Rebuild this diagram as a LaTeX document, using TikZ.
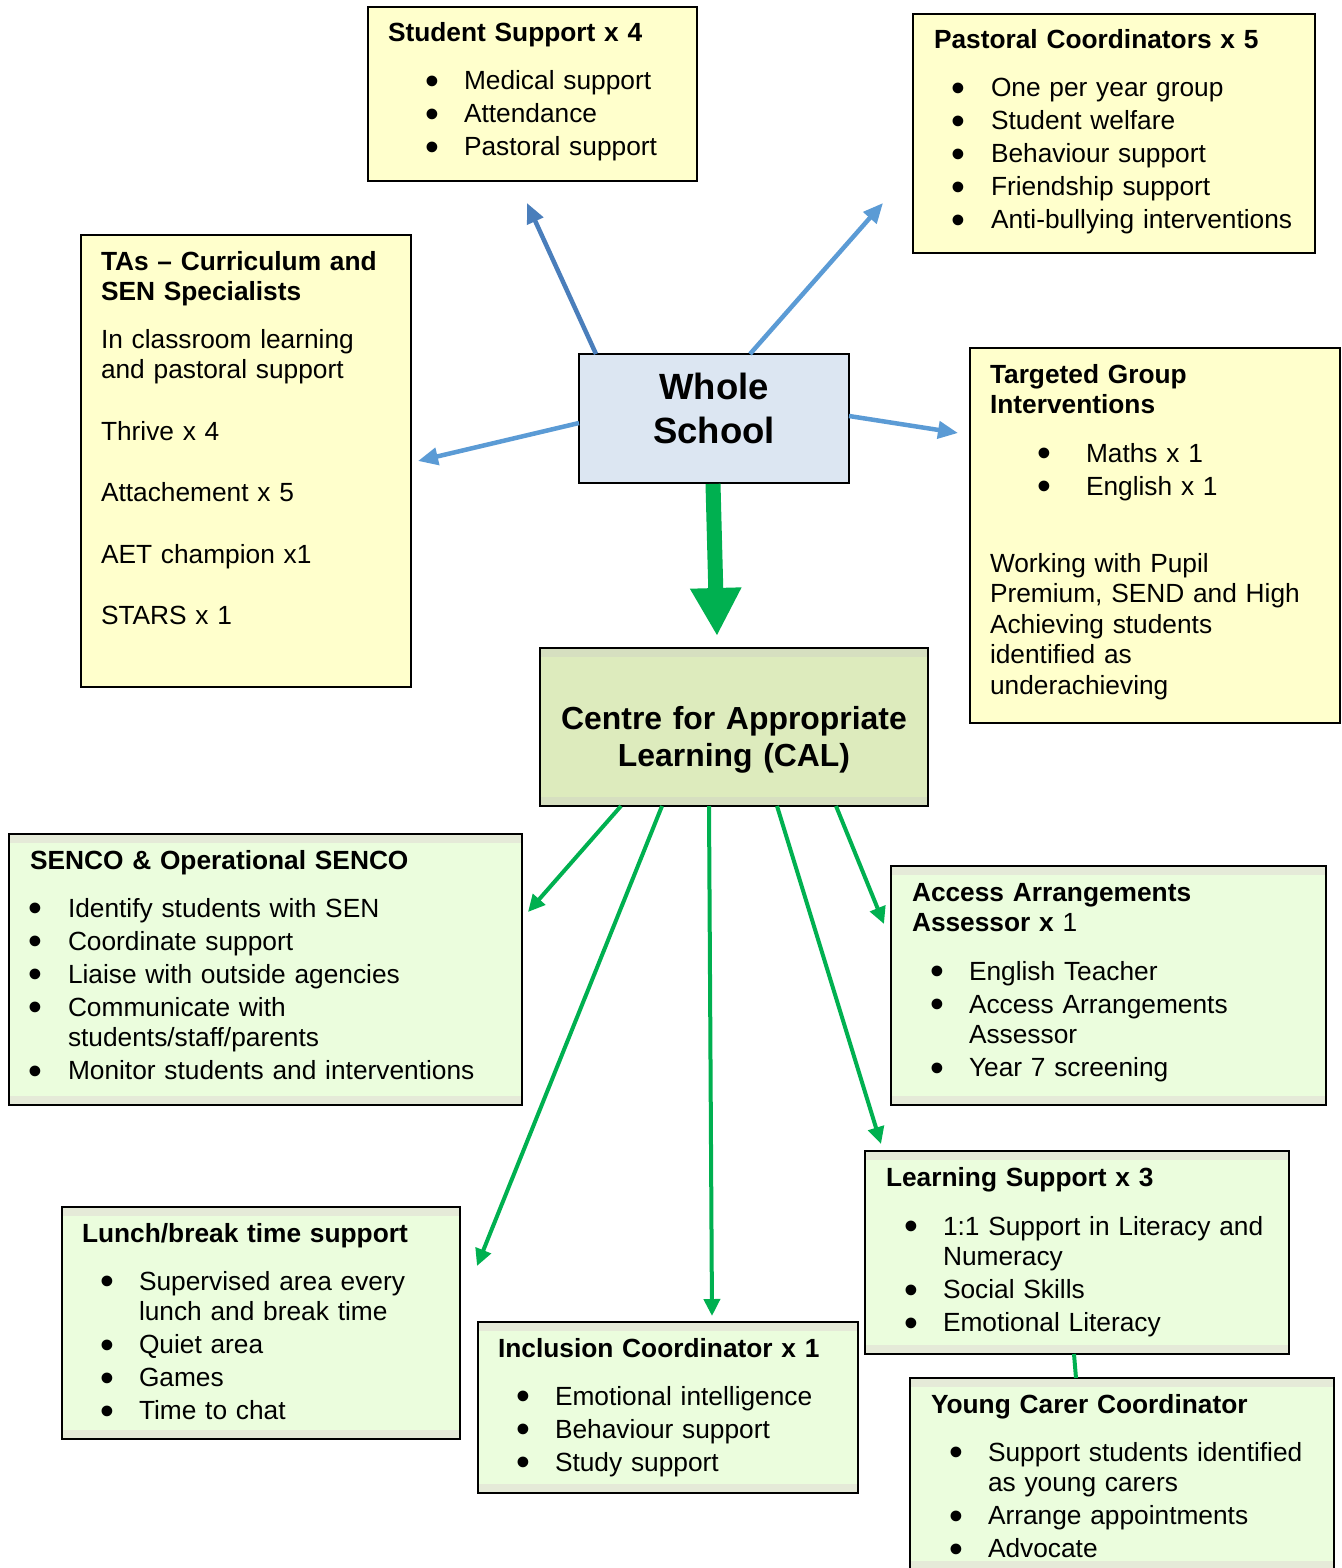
\documentclass[tikz,border=0pt]{standalone}
\usepackage{fontspec}
\setmainfont{Liberation Sans}
\usetikzlibrary{arrows.meta}
\definecolor{yfill}{HTML}{FFFFCC}
\definecolor{bfill}{HTML}{DCE6F2}
\definecolor{calfill}{HTML}{DDEBBD}
\definecolor{calstripe}{HTML}{D6DFC0}
\definecolor{gfill}{HTML}{EBFDDD}
\definecolor{gstripe}{HTML}{E5EAD8}
\definecolor{darkblue}{HTML}{4A7EBB}
\definecolor{lightblue}{HTML}{5B9BD5}
\definecolor{arrowgreen}{HTML}{00B050}
\newcommand\bul[1]{\makebox[0pt][r]{\makebox[0pt][c]{\smash{\raisebox{-4.5pt}{\scalebox{1.5}{\textbullet}}}}\hspace*{#1}}}
\newcommand\nx{\\[2.5pt]}
\newcommand\bodyfont{\fontsize{26.3pt}{30.5pt}\selectfont}
\tikzset{
  box/.style={draw=black, line width=1.8pt, anchor=north west, inner sep=0pt, outer sep=0pt},
  ybox/.style={box, fill=yfill},
  wsbox/.style={box, fill=bfill},
  calbox/.style={box, fill=calfill, path picture={
      \fill[calstripe] (path picture bounding box.north west) rectangle ([yshift=-9pt]path picture bounding box.north east);
      \fill[calstripe] (path picture bounding box.south west) rectangle ([yshift=9pt]path picture bounding box.south east);}},
  gbox/.style={box, fill=gfill, path picture={
      \fill[gstripe] (path picture bounding box.north west) rectangle ([yshift=-9pt]path picture bounding box.north east);
      \fill[gstripe] (path picture bounding box.south west) rectangle ([yshift=9pt]path picture bounding box.south east);}},
  txt/.style={anchor=base west, inner sep=0pt, outer sep=0pt, text width=600pt, align=left, font=\bodyfont},
  ttl/.style={txt, font=\bodyfont\bfseries},
  bigtxt/.style={anchor=base, inner sep=0pt, text width=500pt, align=center},
  barrow/.style={line width=4.5pt, -{Triangle[length=20pt,width=17pt]}},
  garrow/.style={draw=arrowgreen, line width=4pt, -{Triangle[length=17pt,width=16pt]}},
  bigarrow/.style={draw=arrowgreen, line width=15pt, -{Triangle[length=48pt,width=48pt]}},
}
\begin{document}
\begin{tikzpicture}[x=1pt,y=-1pt]
\useasboundingbox[fill=white] (0,0) rectangle (1341,1568);

% boxes
\node[ybox, minimum width=329pt, minimum height=174pt] (ss) at (368,7) {};
\node[ybox, minimum width=402pt, minimum height=239pt] (pc) at (913,14) {};
\node[ybox, minimum width=330pt, minimum height=452pt] (ta) at (81,235) {};
\node[wsbox, minimum width=270pt, minimum height=129pt] (ws) at (579,354) {};
\node[ybox, minimum width=370pt, minimum height=375pt] (tg) at (970,348) {};
\node[calbox, minimum width=388pt, minimum height=158pt] (cal) at (540,648) {};
\node[gbox, minimum width=513pt, minimum height=271pt] (senco) at (9,834) {};
\node[gbox, minimum width=435pt, minimum height=239pt] (aa) at (891,866) {};
\node[gbox, minimum width=424pt, minimum height=203pt] (ls) at (865,1151) {};
\node[gbox, minimum width=424pt, minimum height=192pt] (yc) at (910,1378) {};
\node[gbox, minimum width=398pt, minimum height=232pt] (lb) at (62,1207) {};
\node[gbox, minimum width=380pt, minimum height=171pt] (ic) at (478,1322) {};

% texts
\node[ttl] (sst) at (388,42) {Student Support x 4};
\node[txt] (ssl) at (464,90) {\bul{32pt}Medical support\nx\bul{32pt}Attendance\nx\bul{32pt}Pastoral support};

\node[ttl] (pct) at (934,49) {Pastoral Coordinators x 5};
\node[txt] (pcl) at (991,97) {\bul{33pt}One per year group\nx\bul{33pt}Student welfare\nx\bul{33pt}Behaviour support\nx\bul{33pt}Friendship support\nx\bul{33pt}Anti-bullying interventions};

\node[ttl] (tat) at (101,270) {TAs – Curriculum and\\SEN Specialists};
\node[txt] (tal) at (101,348) {In classroom learning\\and pastoral support\\[31pt]Thrive x 4\\[31pt]Attachement x 5\\[31pt]AET champion x1\\[31pt]STARS x 1};

\node[bigtxt, font=\fontsize{36.5pt}{44pt}\selectfont\bfseries] (wst) at (714,399) {Whole\\School};

\node[ttl] (tgt) at (990,383) {Targeted Group\\Interventions};
\node[txt] (tgl) at (1086,462) {\bul{42pt}Maths x 1\nx\bul{42pt}English x 1};
\node[txt] (tgp) at (990,572) {Working with Pupil\\Premium, SEND and High\\Achieving students\\identified as\\underachieving};

\node[bigtxt, font=\fontsize{31.9pt}{37pt}\selectfont\bfseries] (calt) at (734,729) {Centre for Appropriate\\Learning (CAL)};

\node[ttl] (sencot) at (30,869) {SENCO \& Operational SENCO};
\node[txt] (sencol) at (68,917) {\bul{33pt}Identify students with SEN\nx\bul{33pt}Coordinate support\nx\bul{33pt}Liaise with outside agencies\nx\bul{33pt}Communicate with\\students/staff/parents\nx\bul{33pt}Monitor students and interventions};

\node[txt] (aat) at (912,901) {{\bfseries Access Arrangements\\Assessor x} 1};
\node[txt] (aal) at (969,980) {\bul{32pt}English Teacher\nx\bul{32pt}Access Arrangements\\Assessor\nx\bul{32pt}Year 7 screening};

\node[ttl] (lst) at (886,1186) {Learning Support x 3};
\node[txt] (lsl) at (943,1235) {\bul{32pt}1:1 Support in Literacy and\\Numeracy\nx\bul{32pt}Social Skills\nx\bul{32pt}Emotional Literacy};

\node[ttl] (yct) at (931,1413) {Young Carer Coordinator};
\node[txt] (ycl) at (988,1461) {\bul{32pt}Support students identified\\as young carers\nx\bul{32pt}Arrange appointments\nx\bul{32pt}Advocate};

\node[ttl] (lbt) at (82,1242) {Lunch/break time support};
\node[txt] (lbl) at (139,1290) {\bul{32pt}Supervised area every\\lunch and break time\nx\bul{32pt}Quiet area\nx\bul{32pt}Games\nx\bul{32pt}Time to chat};

\node[ttl] (ict) at (498,1357) {Inclusion Coordinator x 1};
\node[txt] (icl) at (555,1405) {\bul{32pt}Emotional intelligence\nx\bul{32pt}Behaviour support\nx\bul{32pt}Study support};

% free arrow ends
\coordinate (ssend) at (527,203);
\coordinate (pcend) at (883,203);
\coordinate (taend) at (418,461);
\coordinate (tgend) at (958,433);
\coordinate (calend) at (717,636);
\coordinate (sencoend) at (528,912);
\coordinate (lbend) at (477,1266);
\coordinate (icend) at (712,1316);
\coordinate (lsend) at (881,1144);
\coordinate (aaend) at (884,924);

% connectors
\draw[barrow, darkblue] ([xshift=17pt]ws.north west) -- (ssend);
\draw[barrow, lightblue] ([xshift=171pt]ws.north west) -- (pcend);
\draw[barrow, lightblue] ([yshift=-4.5pt]ws.west) -- (taend);
\draw[barrow, lightblue] ([yshift=2.5pt]ws.east) -- (tgend);
\draw[bigarrow] ([xshift=-1pt,yshift=-0.9pt]ws.south) -- (calend);

\draw[garrow] ([xshift=81pt]cal.south west) -- (sencoend);
\draw[garrow] ([xshift=122pt]cal.south west) -- (lbend);
\draw[garrow] ([xshift=169pt]cal.south west) -- (icend);
\draw[garrow] ([xshift=237pt]cal.south west) -- (lsend);
\draw[garrow] ([xshift=296pt]cal.south west) -- (aaend);
\draw[draw=arrowgreen, line width=4pt] ([xshift=209pt]ls.south west) -- ([xshift=166pt]yc.north west);
\end{tikzpicture}
\end{document}
